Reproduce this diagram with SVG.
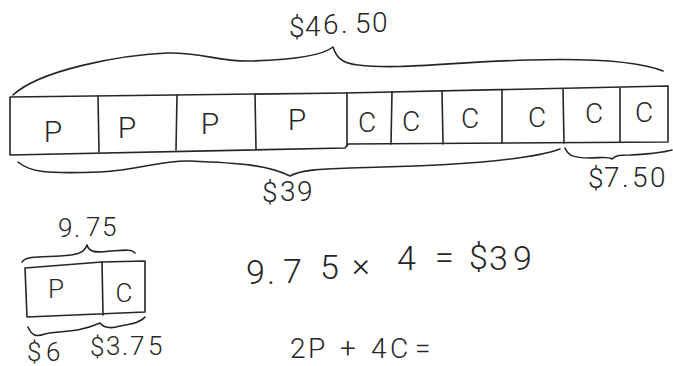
<svg xmlns="http://www.w3.org/2000/svg" width="673" height="366" viewBox="0 0 673 366">
<style>
.ln{fill:none;stroke:#262626;stroke-width:1.6;stroke-linecap:round;stroke-linejoin:round}
.t{font-family:Roboto,"Liberation Sans",sans-serif;font-weight:300;fill:#262626}
</style>
<rect width="673" height="366" fill="#ffffff"/>
<g id="bar">
<path class="ln" d="M10,97 L345,93 L668,86 L668,142 L348,144 L345,148 L10,155 Z"/>
<path class="ln" d="M98,96 L99,152 M177,95 L176,150 M255,94 L256,149 M347,93 L347,146 M392,92 L391,144 M442,91 L443,144 M502,90 L502,143 M563,89 L564,143 M620,88 L620,142"/>
<g class="t" font-size="30">
<text x="53" y="142" text-anchor="middle">P</text>
<text x="127" y="138" text-anchor="middle">P</text>
<text x="210" y="134" text-anchor="middle">P</text>
<text x="297" y="130" text-anchor="middle">P</text>
</g>
<g class="t" font-size="28">
<text x="367" y="132" text-anchor="middle">C</text>
<text x="411" y="131" text-anchor="middle">C</text>
<text x="470" y="128" text-anchor="middle">C</text>
<text x="537" y="127" text-anchor="middle">C</text>
<text x="594" y="123" text-anchor="middle">C</text>
<text x="644" y="122" text-anchor="middle">C</text>
</g>
</g>
<g id="braces">
<path class="ln" d="M13,95 C40,70 120,55 167,53 C200,52 220,62 250,61 C290,60 322,56 333,47 C336,56 340,63 358,65 C400,70 450,62 530,60 C600,58 640,62 663,71"/>
<path class="ln" d="M18,162 C30,172 45,174 100,172 C140,170 160,160 190,161 C240,163 268,165 290,176 C300,170 320,169 350,168 C450,166 530,160 560,149"/>
<path class="ln" d="M565,148 C568,155 572,158 590,158 C600,158 608,156 612,159 C616,155 620,155 630,155 C650,154 665,152 672,150"/>
</g>
<g id="labels" class="t">
<text font-size="28" x="289 305 323 341 355 372" y="37 36 34 33 33 32">$46.50</text>
<text font-size="28" x="262 280 297" y="202 201 201">$39</text>
<text font-size="28" x="588 604 622 632 650" y="188 187 187 187 187">$7.50</text>
</g>
<g id="model">
<path class="ln" d="M25,268 L102,262 L145,261 L145,312 L27,317 Z M102,262 L103,315"/>
<path class="ln" d="M22,262 C26,256 40,257 60,256 C75,255 84,254 87,245 C89,252 95,253 110,251 C125,250 132,249 135,253"/>
<path class="ln" d="M28,327 C32,336 36,337 45,334 C60,330 75,334 100,323 C104,328 110,329 120,326 C130,324 140,323 145,317"/>
<g class="t" font-size="26">
<text x="58 74 86 102" y="237 237 236 236">9.75</text>
<text x="56" y="298" text-anchor="middle">P</text>
<text x="124" y="302" text-anchor="middle">C</text>
<text x="27 46" y="361 361">$6</text>
<text x="90 106 122 130 148" y="356 355 355 355 355">$3.75</text>
</g>
</g>
<g id="equations" class="t" font-size="34">
<text x="246 267 283 320 340 352 376 397 420 435 456 469 489 513" y="284 284 283 279 277 276 273 270 269 269 269 269 270 270">9.75 × 4 = $39</text>
<text font-size="28" x="290 308 328 340 354 371 390 399 415" y="358 358 358 358 358 358 358 358 358">2P + 4C =</text>
</g>
</svg>
